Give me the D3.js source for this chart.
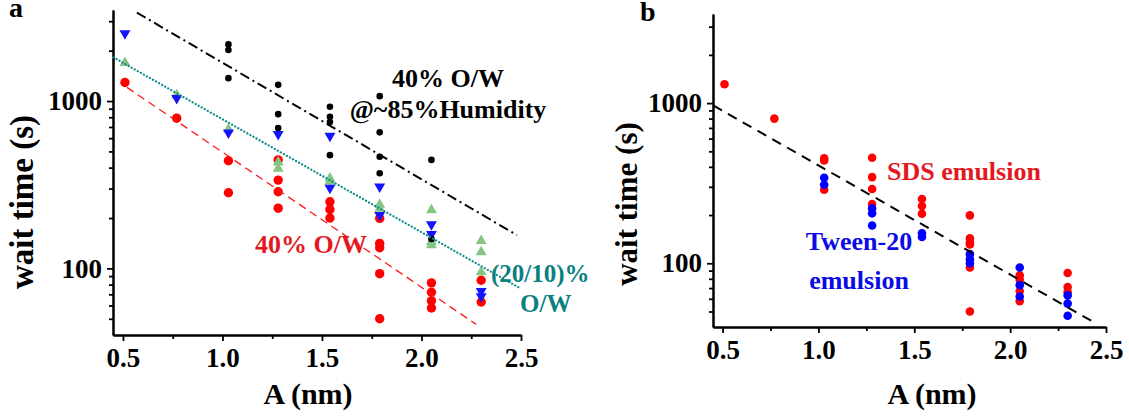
<!DOCTYPE html>
<html>
<head>
<meta charset="utf-8">
<script src="https://cdn.jsdelivr.net/npm/d3@7"></script>
<style>
    body { margin: 0; background: white; }
</style>
</head>
<body>
<svg width="1129" height="417"></svg>
<script>
const font = "Liberation Serif"

// Axis ticks shared by both panels
const x_ticks = [0.5, 1.0, 1.5, 2.0, 2.5]
const x_minor_ticks = [0.75, 1.25, 1.75, 2.25]
const y_ticks = [100, 1000]

// Panel a: wait time vs A for the four emulsions
const a_black_A = [1.03, 1.03, 1.03, 1.28, 1.28, 1.28, 1.54, 1.54, 1.54, 1.54, 1.79, 1.79, 1.79, 1.79, 2.05, 2.05]
const a_black_t = [2180, 2020, 1370, 1250, 835, 690, 925, 805, 750, 475, 1070, 650, 465, 370, 445, 150]

const a_red_A = [0.51, 0.77, 1.03, 1.03, 1.28, 1.28, 1.28, 1.28, 1.54, 1.54, 1.54, 1.79, 1.79, 1.79, 1.79, 1.79, 2.05, 2.05, 2.05, 2.05, 2.30, 2.30]
const a_red_t = [1290, 790, 440, 283, 445, 337, 287, 229, 250, 225, 200, 199, 141, 133, 93, 50, 82, 72, 64, 58, 85, 63]

const a_green_A = [0.51, 0.77, 1.03, 1.28, 1.28, 1.54, 1.54, 1.79, 1.79, 2.05, 2.05, 2.05, 2.30, 2.30, 2.30]
const a_green_t = [1690, 1085, 677, 430, 395, 345, 330, 241, 228, 223, 144, 138, 146, 125, 95]

const a_blue_A = [0.51, 0.77, 1.03, 1.28, 1.54, 1.54, 1.79, 1.79, 2.05, 2.05, 2.30, 2.30]
const a_blue_t = [2540, 1040, 647, 635, 618, 303, 308, 208, 183, 160, 73, 68]

// fitted lines (end points)
const a_fit_black_A = [0.57, 2.48]
const a_fit_black_t = [3376, 158]
const a_fit_red_A = [0.52, 2.275]
const a_fit_red_t = [1207, 46.3]
const a_fit_teal_A = [0.452, 2.497]
const a_fit_teal_t = [1826, 76]

// Panel b: SDS vs Tween-20 emulsions
const b_red_A = [0.51, 0.77, 1.03, 1.03, 1.03, 1.28, 1.28, 1.28, 1.28, 1.54, 1.54, 1.54, 1.79, 1.79, 1.79, 1.79, 1.79, 1.79, 2.05, 2.05, 2.05, 2.05, 2.30, 2.30, 2.30]
const b_red_t = [1310, 800, 452, 438, 288, 456, 345, 291, 234, 252, 228, 204, 199, 143, 135, 131, 94, 50, 84, 79, 67, 58, 87, 71, 66]

const b_blue_A = [1.03, 1.03, 1.28, 1.28, 1.28, 1.54, 1.54, 1.79, 1.79, 1.79, 2.05, 2.05, 2.05, 2.30, 2.30, 2.30]
const b_blue_t = [342, 309, 220, 205, 172, 154, 146, 114, 106, 100, 94, 73, 62, 63, 56, 47]

const b_fit_A = [0.451, 2.452]
const b_fit_t = [967, 41.8]

const svg = d3.select("svg")

function draw_axes(x, y, label_size, y_label_x, y_label_y, x_label_x) {
    const g = svg.append("g")
    const bottom = y.range()[0]
    const left = x.range()[0]

    // minor ticks first, labels only on major ones
    g.append("g")
        .attr("transform", `translate(0,${bottom})`)
        .call(d3.axisBottom(x).tickValues(x_minor_ticks).tickSize(4).tickSizeOuter(0).tickFormat(""))
    g.append("g")
        .attr("transform", `translate(0,${bottom})`)
        .call(d3.axisBottom(x).tickValues(x_ticks).tickSize(6).tickSizeOuter(0).tickPadding(7).tickFormat(d3.format(".1f")))

    const y_minor = y.ticks().filter(v => v > 40 && y_ticks.indexOf(v) < 0)
    g.append("g")
        .attr("transform", `translate(${left},0)`)
        .call(d3.axisLeft(y).tickValues(y_minor).tickSize(4).tickSizeOuter(0).tickFormat(""))
    g.append("g")
        .attr("transform", `translate(${left},0)`)
        .call(d3.axisLeft(y).tickValues(y_ticks).tickSize(6).tickSizeOuter(0).tickPadding(5).tickFormat(d3.format("d")))

    g.selectAll(".domain").attr("stroke-width", 2)
    g.selectAll(".tick line").attr("stroke-width", 1.8)
    g.selectAll("text")
        .attr("font-family", font)
        .attr("font-weight", "bold")
        .attr("font-size", 27)
        .attr("fill", "black")

    g.append("text")
        .attr("x", x_label_x)
        .attr("y", 404)
        .attr("text-anchor", "middle")
        .attr("font-family", font)
        .attr("font-weight", "bold")
        .attr("font-size", 30)
        .text("A (nm)")

    g.append("text")
        .attr("transform", `translate(${y_label_x},${y_label_y}) rotate(-90)`)
        .attr("text-anchor", "middle")
        .attr("font-family", font)
        .attr("font-weight", "bold")
        .attr("font-size", label_size)
        .text("wait time (s)")
}

function draw_circles(x, y, A, t, r, color) {
    svg.append("g")
        .selectAll("circle")
        .data(A)
        .enter()
        .append("circle")
        .attr("cx", d => x(d))
        .attr("cy", (d, i) => y(t[i]))
        .attr("r", r)
        .attr("fill", color)
}

function draw_triangles(x, y, A, t, up, color) {
    const symbol = d3.symbol(d3.symbolTriangle, 52)
    svg.append("g")
        .selectAll("path")
        .data(A)
        .enter()
        .append("path")
        .attr("d", symbol)
        .attr("transform", (d, i) => `translate(${x(d)},${y(t[i])})` + (up ? "" : " rotate(180)"))
        .attr("fill", color)
}

function draw_fit(x, y, A, t, color, width, dash, cap = "butt") {
    const line = d3.line()
        .x(d => x(d))
        .y((d, i) => y(t[i]))
    svg.append("path")
        .datum(A)
        .attr("d", line)
        .attr("fill", "none")
        .attr("stroke", color)
        .attr("stroke-width", width)
        .attr("stroke-dasharray", dash)
        .attr("stroke-linecap", cap)
}

function add_text(x, y, txt, color, size, anchor = "start") {
    svg.append("text")
        .attr("x", x)
        .attr("y", y)
        .attr("fill", color)
        .attr("font-family", font)
        .attr("font-weight", "bold")
        .attr("font-size", size)
        .attr("text-anchor", anchor)
        .text(txt)
}

// ---- panel a ----
const xa = d3.scaleLinear().domain([0.45, 2.5]).range([113, 521])
const ya = d3.scaleLog().domain([40, 3500]).range([335, 10])

draw_axes(xa, ya, 33, 33, 202, 308)
draw_circles(xa, ya, a_red_A, a_red_t, 4.7, "#ff0000")
draw_triangles(xa, ya, a_green_A, a_green_t, true, "#84c584")
draw_triangles(xa, ya, a_blue_A, a_blue_t, false, "#1414ff")
draw_circles(xa, ya, a_black_A, a_black_t, 3.3, "#000000")
draw_fit(xa, ya, a_fit_black_A, a_fit_black_t, "#000000", 2, "10 4 2 4")
draw_fit(xa, ya, a_fit_red_A, a_fit_red_t, "#ff1a1a", 1.3, "8 5")
draw_fit(xa, ya, a_fit_teal_A, a_fit_teal_t, "#0a8a8a", 2.2, "0.1 3.4", "round")

add_text(9, 17, "a", "black", 28)
add_text(448, 87, "40% O/W", "black", 26, "middle")
add_text(448, 118, "@~85%Humidity", "black", 26, "middle")
add_text(255, 253, "40% O/W", "#e3191f", 26)
add_text(491, 282, "(20/10)%", "#0a7f7f", 25)
add_text(520, 312, "O/W", "#0a7f7f", 25)

// ---- panel b ----
const xb = d3.scaleLinear().domain([0.45, 2.5]).range([713, 1106])
const yb = d3.scaleLog().domain([40, 3600]).range([327, 14])

draw_axes(xb, yb, 31, 637, 204, 932)
draw_circles(xb, yb, b_red_A, b_red_t, 4.3, "#ff0000")
draw_circles(xb, yb, b_blue_A, b_blue_t, 4.3, "#0000ff")
draw_fit(xb, yb, b_fit_A, b_fit_t, "#000000", 2, "10 7")

add_text(640, 21, "b", "black", 28)
add_text(887, 180, "SDS emulsion", "#e3191f", 26)
add_text(859, 250, "Tween-20", "#0b0be6", 26, "middle")
add_text(859, 289, "emulsion", "#0b0be6", 26, "middle")
</script>
</body>
</html>
